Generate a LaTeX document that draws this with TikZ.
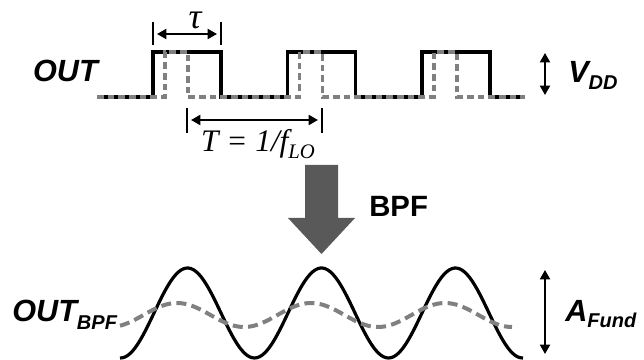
\documentclass[tikz,border=0pt]{standalone}
\usepackage{fontspec}
\setmainfont{Liberation Sans}
\newfontfamily\serifit{Liberation Serif}
\usepackage{tikz}
\usetikzlibrary{positioning,arrows.meta,calc}

\definecolor{wavegray}{HTML}{808080}
\definecolor{arrowgray}{HTML}{595959}

\begin{document}
\begin{tikzpicture}[
  x=0.75pt,y=-0.75pt,>={Triangle[length=7pt,width=7.5pt]},
  sq/.style={line width=2.4pt,black},
  sqn/.style={line width=2.4pt,wavegray,dash pattern=on 5pt off 3pt},
  sine/.style={line width=2.4pt,black},
  sinen/.style={line width=3pt,wavegray,dash pattern=on 7.5pt off 4pt},
  tick/.style={line width=1.5pt},
  dim/.style={<->,line width=1.5pt},
  lbl/.style={inner sep=0pt,font=\fontsize{23}{25}\selectfont\bfseries\itshape},
  mlbl/.style={inner sep=0pt,font=\fontsize{23.5}{26}\selectfont\serifit\itshape},
]
  \useasboundingbox (0,0) rectangle (644,360);

  % square waves
  \draw[sq] (97,97) \foreach \k in {0,1,2}{
      -- ({153+134.5*\k},97) -- ++(0,-45) -- ++(68,0) -- ++(0,45)} -- (525,97);
  \draw[sqn] (97,97) \foreach \k in {0,1,2}{
      -- ({165+134.5*\k},97) -- ++(0,-45) -- ++(23,0) -- ++(0,45)} -- (525,97);

  \node[lbl,anchor=base east] (out) at (98,82) {OUT};

  % tau
  \coordinate (ta) at (153,34);
  \coordinate (tb) at (221,34);
  \draw[tick] (153,22) -- (153,45);
  \draw[tick] (221,22) -- (221,45);
  \draw[dim] ($(ta)+(4,0)$) -- ($(tb)+(-4,0)$);
  \node[mlbl,font=\fontsize{27}{29}\selectfont\serifit\itshape,anchor=base] (tau) at (195,29) {τ};

  % period
  \coordinate (pa) at (187,120);
  \coordinate (pb) at (322,120);
  \draw[tick] (187,108) -- (187,133);
  \draw[tick] (322,108) -- (322,133);
  \draw[dim] ($(pa)+(4,0)$) -- ($(pb)+(-4,0)$);
  \node[mlbl,anchor=base] (per) at (258,152)
    {T = 1/f\raisebox{-0.22em}{\fontsize{15.5}{17}\selectfont LO}};

  % VDD
  \coordinate (va) at (545,53);
  \coordinate (vb) at (545,95);
  \draw[dim] (va) -- (vb);
  \node[lbl,anchor=base west] (vdd) at (568,83) {V\raisebox{-0.2em}{\fontsize{15}{17}\selectfont DD}};

  % BPF arrow
  \fill[arrowgray] (305,165) -- (338,165) -- (338,218) -- (355,218)
    -- (321.5,254) -- (288,218) -- (305,218) -- cycle;
  \node[inner sep=0pt,font=\fontsize{22}{24}\selectfont\bfseries,anchor=base west]
    (bpf) at (369,217) {BPF};

  % filtered outputs
  \draw[sine] plot[domain=120:523,samples=160]
    (\x,{313-45*cos(2.6866*(\x-187.5))});
  \draw[sinen] plot[domain=120:512,samples=160]
    (\x,{315-12*cos(2.6866*(\x-177))});

  \node[lbl,anchor=base west] (outbpf) at (12,322)
    {OUT\raisebox{-0.25em}{\fontsize{15}{17}\selectfont BPF}};

  % AFund
  \coordinate (aa) at (545,270);
  \coordinate (ab) at (545,354);
  \draw[dim] (aa) -- (ab);
  \node[lbl,anchor=base west] (afund) at (565,321)
    {A\raisebox{-0.22em}{\fontsize{15}{17}\selectfont Fund}};
\end{tikzpicture}
\end{document}
